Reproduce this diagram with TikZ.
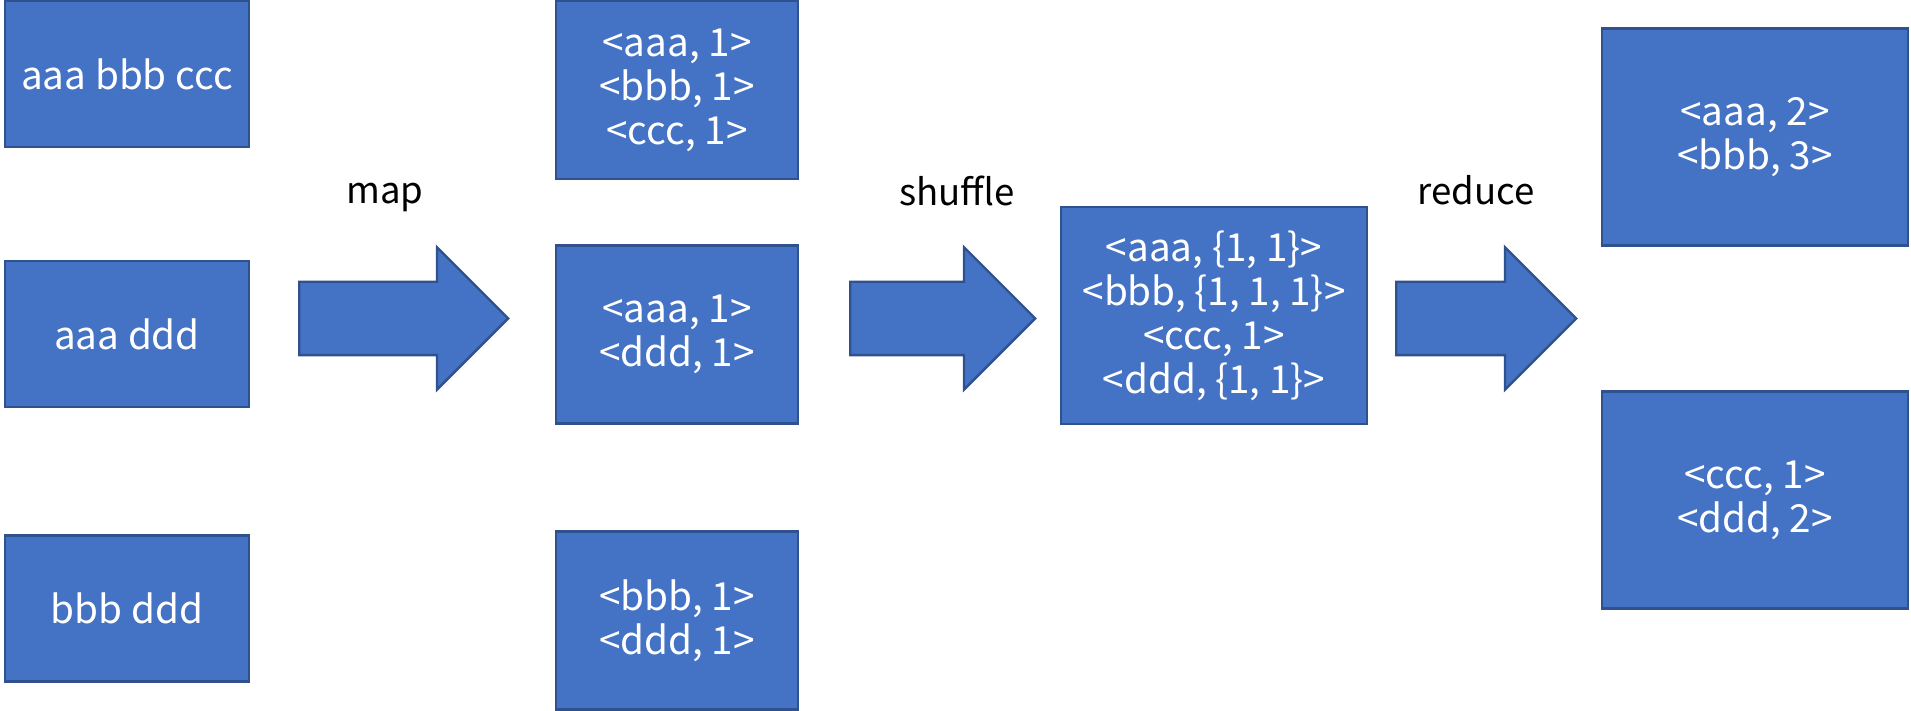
\documentclass[tikz,border=0pt]{standalone}
\usepackage{fontspec}
\setmainfont{Noto Sans CJK JP}
\definecolor{boxblue}{HTML}{4472C4}
\definecolor{edgeblue}{HTML}{2F528F}
\usetikzlibrary{shapes, shapes.arrows, positioning}

\begin{document}
\begin{tikzpicture}[
  kvbox/.style={draw=edgeblue, fill=boxblue, line width=0.7pt, text=white, align=center, inner sep=0pt, font=\fontsize{11pt}{12.5pt}\selectfont},
  blockarrow/.style={shape=single arrow, draw=edgeblue, fill=boxblue, line width=0.7pt, inner xsep=0pt, inner ysep=0.355cm, single arrow head extend=0.345cm, single arrow tip angle=90, anchor=tail},
  steplabel/.style={anchor=base, font=\fontsize{10.4pt}{12.5pt}\selectfont}
]
  \useasboundingbox (0, 0) rectangle (19.11, -7.11);

  % input splits
  \node[kvbox, minimum width=2.44cm, minimum height=1.46cm] (in1) at (1.27, -0.74) {aaa bbb ccc};
  \node[kvbox, minimum width=2.44cm, minimum height=1.46cm] (in2) at (1.27, -3.34) {aaa ddd};
  \node[kvbox, minimum width=2.44cm, minimum height=1.46cm] (in3) at (1.27, -6.085) {bbb ddd};

  % map output
  \node[kvbox, minimum width=2.42cm, minimum height=1.78cm] (map1) at (6.77, -0.90) {<aaa, 1>\\<bbb, 1>\\<ccc, 1>};
  \node[kvbox, minimum width=2.42cm, minimum height=1.78cm] (map2) at (6.77, -3.345) {<aaa, 1>\\<ddd, 1>};
  \node[kvbox, minimum width=2.42cm, minimum height=1.78cm] (map3) at (6.77, -6.205) {<bbb, 1>\\<ddd, 1>};

  % shuffle output
  \node[kvbox, minimum width=3.06cm, minimum height=2.17cm] (shuf) at (12.14, -3.155) {<aaa, \{1, 1\}>\\<bbb, \{1, 1, 1\}>\\<ccc, 1>\\<ddd, \{1, 1\}>};

  % reduce output
  \node[kvbox, minimum width=3.06cm, minimum height=2.17cm] (red1) at (17.55, -1.37) {<aaa, 2>\\<bbb, 3>};
  \node[kvbox, minimum width=3.06cm, minimum height=2.17cm] (red2) at (17.55, -5.00) {<ccc, 1>\\<ddd, 2>};

  % block arrows
  \node[blockarrow, minimum height=2.09cm] (maparrow) at (2.98, -3.185) {};
  \node[blockarrow, minimum height=1.85cm] (shufarrow) at (8.49, -3.185) {};
  \node[blockarrow, minimum height=1.80cm] (redarrow) at (13.95, -3.185) {};

  \node[steplabel] (maplabel) at (3.85, -2.04) {map};
  \node[steplabel] (shuflabel) at (9.57, -2.06) {shuffle};
  \node[steplabel] (redlabel) at (14.76, -2.05) {reduce};
\end{tikzpicture}
\end{document}
